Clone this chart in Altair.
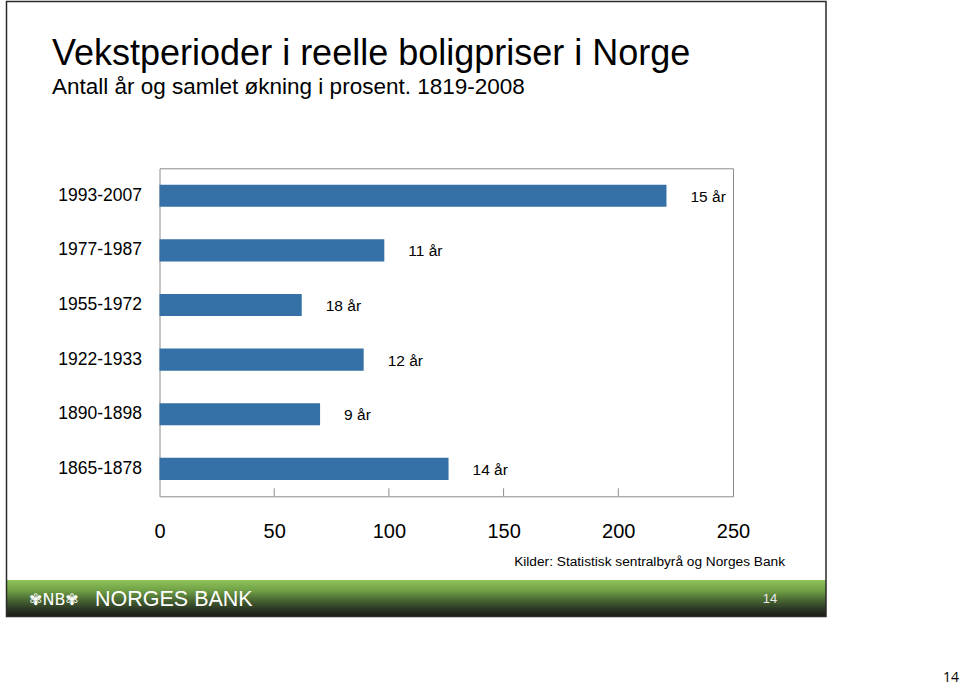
import altair as alt
import pandas as pd

# ---- data ----
periods = ["1993-2007", "1977-1987", "1955-1972", "1922-1933", "1890-1898", "1865-1878"]
growth = [221, 98, 62, 89, 70, 126]
year_labels = ["15 år", "11 år", "18 år", "12 år", "9 år", "14 år"]
x_ticks = [0, 50, 100, 150, 200, 250]
inner_ticks = [50, 100, 150, 200]

title_text = "Vekstperioder i reelle boligpriser i Norge"
subtitle_text = "Antall år og samlet økning i prosent. 1819-2008"
source_text = "Kilder: Statistisk sentralbyrå og Norges Bank"
page_no = "14"

df = pd.DataFrame({"period": periods, "growth": growth, "label": year_labels})
ticks_df = pd.DataFrame({"t": inner_ticks})

FONT = "Liberation Sans"
BAR = "#3570A7"

# plot-area geometry inside the 960x685 canvas
OX, OY = 159.5, 168.3
W, H = 573.5, 328.0

def px(x):
    return x - OX

def py(y):
    return y - OY

one = alt.Data(values=[{"a": 1}])

xscale = alt.Scale(domain=[0, 250], nice=False, zero=True)

bars = alt.Chart(df).mark_bar(color=BAR).encode(
    x=alt.X("growth:Q", scale=xscale,
            axis=alt.Axis(values=x_ticks, title=None, grid=False, ticks=False,
                          domain=False, labelFontSize=20, labelFont=FONT,
                          labelColor="#000000", labelPadding=25,
                          labelFlush=False)),
    y=alt.Y("period:N", sort=periods,
            scale=alt.Scale(paddingInner=0.595, paddingOuter=0.3),
            axis=alt.Axis(title=None, ticks=False, domain=False,
                          labelFontSize=17.5, labelFont=FONT,
                          labelColor="#000000", labelPadding=18)),
)

labels = alt.Chart(df).mark_text(
    align="left", baseline="middle", dx=24, dy=1,
    fontSize=15.5, font=FONT, color="#000000"
).encode(
    x=alt.X("growth:Q", scale=xscale),
    y=alt.Y("period:N", sort=periods),
    text="label:N",
)

tick_marks = alt.Chart(ticks_df).mark_rule(color="#8c8c8c", strokeWidth=1).encode(
    x=alt.X("t:Q", scale=xscale),
    y=alt.value(H),
    y2=alt.value(H - 8),
)

def text_layer(txt, x, y, size, color="#000000", align="left",
               baseline="alphabetic", font=FONT, weight="normal"):
    return alt.Chart(one).mark_text(
        text=txt, align=align, baseline=baseline, fontSize=size,
        font=font, color=color, fontWeight=weight
    ).encode(x=alt.value(px(x)), y=alt.value(py(y)))

title = text_layer(title_text, 52, 65, 36)
subtitle = text_layer(subtitle_text, 52, 94, 22.5)
source = text_layer(source_text, 785, 566, 13.7, align="right")

footer = alt.Chart(one).mark_rect(
    color=alt.Gradient(
        gradient="linear", x1=0, x2=0, y1=0, y2=1,
        stops=[
            alt.GradientStop(color="#8fc45b", offset=0),
            alt.GradientStop(color="#6f9f45", offset=0.3),
            alt.GradientStop(color="#4a6833", offset=0.55),
            alt.GradientStop(color="#2c3825", offset=0.8),
            alt.GradientStop(color="#1a1e17", offset=1),
        ],
    )
).encode(
    x=alt.value(px(6)), x2=alt.value(px(826)),
    y=alt.value(py(580)), y2=alt.value(py(616)),
)

border = alt.Chart(one).mark_rect(
    fill=None, fillOpacity=0, stroke="#2a2a2a", strokeWidth=1.5
).encode(
    x=alt.value(px(6.5)), x2=alt.value(px(826)),
    y=alt.value(py(1.5)), y2=alt.value(py(616.5)),
)

logo = text_layer("✾NB✾", 29, 605, 16, color="#ffffff", font="DejaVu Sans")
bank = text_layer("NORGES BANK", 95, 605.5, 21.5, color="#ffffff",
                  font="Liberation Sans")
footer_no = text_layer(page_no, 770, 603, 13, color="#e8e8e8", align="center")
outer_no = text_layer(page_no, 951, 682, 14, color="#000000", align="center",
                      font="Open Sans")

chart = alt.layer(
    footer, border, bars, tick_marks, labels, title, subtitle, source,
    logo, bank, footer_no, outer_no
).properties(
    width=W, height=H,
    padding={"left": OX, "top": OY, "right": 960 - OX - W, "bottom": 685 - OY - H},
    autosize=alt.AutoSizeParams(type="none"),
    background="#ffffff",
).configure_view(
    stroke="#8c8c8c", strokeWidth=1
)

chart.save("out.html", embed_options={"renderer": "svg", "actions": False})
